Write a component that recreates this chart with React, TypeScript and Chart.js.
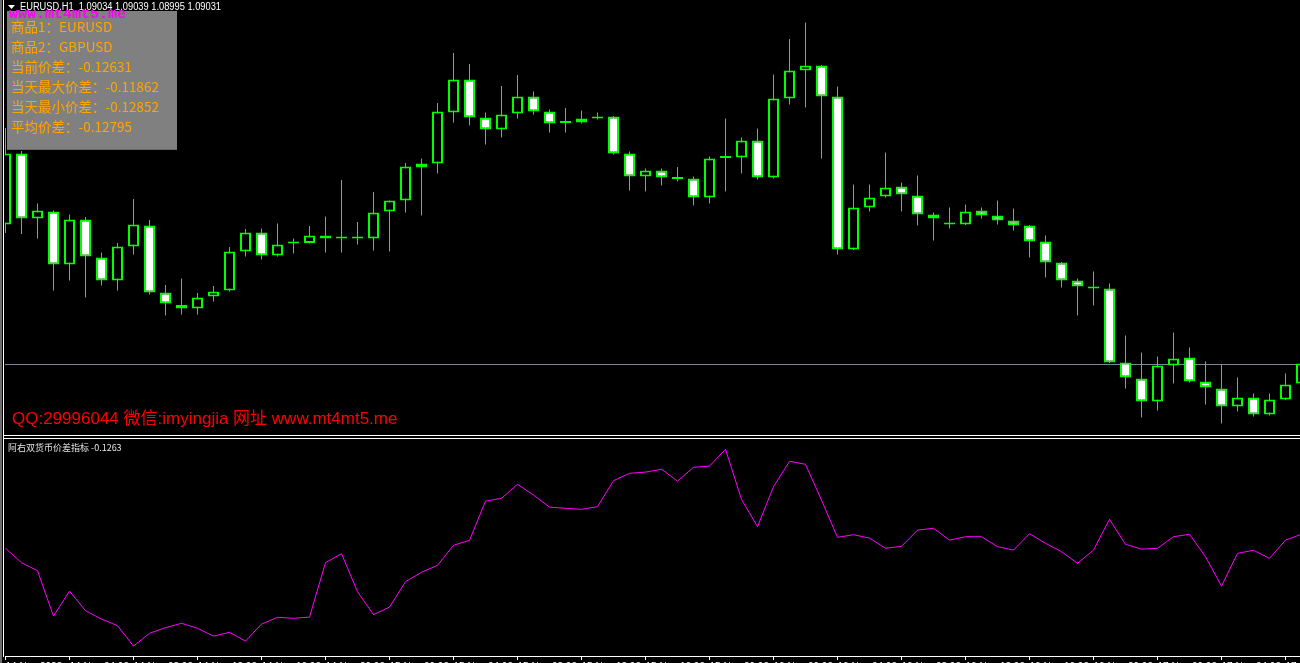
import React, { useEffect, useRef } from "react";
import { Chart, registerables } from "chart.js";

Chart.register(...registerables);

// ---- data ----
const headerText = "EURUSD,H1  1.09034 1.09039 1.08995 1.09031";
const bidPrice = 1.09031;

const opens = [
  1.09310, 1.09452, 1.09322, 1.09336, 1.09230, 1.09320, 1.09244, 1.09198, 1.09266, 1.09308,
  1.09174, 1.09149, 1.09142, 1.09166, 1.09178, 1.09256, 1.09294, 1.09248, 1.09272, 1.09273,
  1.09288, 1.09282, 1.09286, 1.09282, 1.09336, 1.09358, 1.09424, 1.09432, 1.09534, 1.09600,
  1.09524, 1.09500, 1.09532, 1.09566, 1.09536, 1.09514, 1.09514, 1.09522, 1.09526, 1.09452,
  1.09406, 1.09418, 1.09402, 1.09402, 1.09364, 1.09443, 1.09444, 1.09478, 1.09404, 1.09562,
  1.09618, 1.09628, 1.09566, 1.09260, 1.09344, 1.09366, 1.09386, 1.09368, 1.09330, 1.09314,
  1.09310, 1.09338, 1.09328, 1.09318, 1.09308, 1.09276, 1.09234, 1.09198, 1.09186, 1.09182,
  1.09034, 1.09002, 1.08956, 1.09028, 1.09044, 1.08996, 1.08982, 1.08946, 1.08964, 1.08930,
  1.08960, 1.08992,
];
const highs = [
  1.09503, 1.09457, 1.09352, 1.09338, 1.09330, 1.09325, 1.09254, 1.09273, 1.09361, 1.09319,
  1.09189, 1.09202, 1.09173, 1.09187, 1.09265, 1.09301, 1.09302, 1.09312, 1.09282, 1.09307,
  1.09326, 1.09399, 1.09315, 1.09375, 1.09358, 1.09433, 1.09442, 1.09553, 1.09653, 1.09631,
  1.09534, 1.09587, 1.09609, 1.09576, 1.09540, 1.09543, 1.09538, 1.09534, 1.09527, 1.09456,
  1.09422, 1.09422, 1.09425, 1.09406, 1.09446, 1.09522, 1.09484, 1.09502, 1.09610, 1.09681,
  1.09714, 1.09629, 1.09586, 1.09390, 1.09390, 1.09454, 1.09394, 1.09408, 1.09334, 1.09344,
  1.09350, 1.09344, 1.09358, 1.09342, 1.09309, 1.09288, 1.09235, 1.09202, 1.09216, 1.09192,
  1.09088, 1.09054, 1.09046, 1.09094, 1.09064, 1.09036, 1.09030, 1.09004, 1.08972, 1.08972,
  1.09012, 1.09033,
];
const lows = [
  1.09293, 1.09291, 1.09282, 1.09178, 1.09198, 1.09164, 1.09188, 1.09178, 1.09250, 1.09170,
  1.09128, 1.09130, 1.09130, 1.09156, 1.09176, 1.09246, 1.09240, 1.09246, 1.09252, 1.09272,
  1.09254, 1.09254, 1.09270, 1.09258, 1.09256, 1.09334, 1.09328, 1.09412, 1.09514, 1.09508,
  1.09470, 1.09484, 1.09522, 1.09530, 1.09494, 1.09494, 1.09512, 1.09520, 1.09450, 1.09378,
  1.09376, 1.09388, 1.09396, 1.09348, 1.09352, 1.09376, 1.09412, 1.09400, 1.09402, 1.09550,
  1.09544, 1.09442, 1.09250, 1.09259, 1.09336, 1.09364, 1.09336, 1.09308, 1.09278, 1.09302,
  1.09309, 1.09322, 1.09310, 1.09298, 1.09244, 1.09204, 1.09184, 1.09128, 1.09148, 1.09033,
  1.08982, 1.08924, 1.08938, 1.08992, 1.08994, 1.08950, 1.08912, 1.08936, 1.08926, 1.08928,
  1.08959, 1.08990,
];
const closes = [
  1.09452, 1.09322, 1.09338, 1.09230, 1.09320, 1.09246, 1.09198, 1.09266, 1.09310, 1.09174,
  1.09152, 1.09142, 1.09164, 1.09176, 1.09256, 1.09294, 1.09248, 1.09270, 1.09274, 1.09288,
  1.09282, 1.09286, 1.09282, 1.09334, 1.09358, 1.09426, 1.09432, 1.09536, 1.09600, 1.09524,
  1.09500, 1.09530, 1.09566, 1.09536, 1.09512, 1.09513, 1.09522, 1.09526, 1.09452, 1.09406,
  1.09418, 1.09404, 1.09401, 1.09364, 1.09442, 1.09444, 1.09478, 1.09404, 1.09562, 1.09618,
  1.09628, 1.09566, 1.09260, 1.09344, 1.09364, 1.09384, 1.09370, 1.09330, 1.09322, 1.09310,
  1.09336, 1.09328, 1.09318, 1.09308, 1.09276, 1.09234, 1.09198, 1.09186, 1.09182, 1.09034,
  1.09004, 1.08956, 1.09028, 1.09042, 1.08996, 1.08984, 1.08946, 1.08964, 1.08930, 1.08960,
  1.08990, 1.09032,
];
const spread = [
  -0.12700, -0.12772, -0.12812, -0.13039, -0.12914, -0.13012, -0.13054, -0.13087, -0.13189, -0.13125,
  -0.13097, -0.13075, -0.13100, -0.13139, -0.13120, -0.13164, -0.13079, -0.13045, -0.13050, -0.13044,
  -0.12772, -0.12727, -0.12917, -0.13032, -0.12994, -0.12867, -0.12820, -0.12785, -0.12685, -0.12660,
  -0.12464, -0.12450, -0.12380, -0.12434, -0.12494, -0.12500, -0.12505, -0.12492, -0.12362, -0.12325,
  -0.12319, -0.12305, -0.12364, -0.12295, -0.12289, -0.12205, -0.12455, -0.12592, -0.12392, -0.12265,
  -0.12280, -0.12459, -0.12645, -0.12632, -0.12649, -0.12700, -0.12690, -0.12609, -0.12600, -0.12659,
  -0.12642, -0.12642, -0.12692, -0.12709, -0.12627, -0.12675, -0.12717, -0.12775, -0.12709, -0.12555,
  -0.12680, -0.12704, -0.12700, -0.12642, -0.12630, -0.12742, -0.12889, -0.12725, -0.12710, -0.12750,
  -0.12659, -0.12630,
];
const tickBars = [0, 4, 8, 12, 16, 20, 24, 28, 32, 36, 40, 44, 48, 52, 56, 60, 64, 68, 72, 76, 80];
const timeLabels = [
  "14 Nov 2023", "14 Nov 04:00", "14 Nov 08:00", "14 Nov 12:00", "14 Nov 16:00", "14 Nov 20:00",
  "15 Nov 00:00", "15 Nov 04:00", "15 Nov 08:00", "15 Nov 12:00", "15 Nov 16:00", "15 Nov 20:00",
  "16 Nov 00:00", "16 Nov 04:00", "16 Nov 08:00", "16 Nov 12:00", "16 Nov 16:00", "16 Nov 20:00",
  "17 Nov 00:00", "17 Nov 04:00", "17 Nov 08:00",
];
const watermark = "www.mt4mt5.me";
const infoLines = [
  "商品1：EURUSD",
  "商品2：GBPUSD",
  "当前价差：-0.12631",
  "当天最大价差：-0.11862",
  "当天最小价差：-0.12852",
  "平均价差：-0.12795",
];
const contactText = "QQ:29996044 微信:imyingjia 网址 www.mt4mt5.me";
const indicatorLabel = "阿右双货币价差指标 -0.1263";

const GREEN = "#00ff00";

const overlayPlugin = {
  id: "mt4overlay",
  beforeDatasetsDraw(chart: any) {
    const ctx = chart.ctx;
    const ys = chart.scales.y;
    const yb = Math.floor(ys.getPixelForValue(bidPrice));
    ctx.save();
    ctx.fillStyle = "#778899";
    ctx.fillRect(chart.chartArea.left, yb, chart.chartArea.right - chart.chartArea.left, 1);
    ctx.restore();
  },
  afterDraw(chart: any) {
    const ctx = chart.ctx;
    ctx.save();
    // window frames
    ctx.fillStyle = "#6e6e6e";
    ctx.fillRect(0, 0, 2, 663);
    ctx.fillStyle = "#ffffff";
    ctx.fillRect(3, 0, 1, 657);
    ctx.fillRect(3, 435, 1297, 1);
    ctx.fillRect(3, 438, 1297, 1);
    ctx.fillStyle = "#000000";
    ctx.fillRect(4, 436, 1296, 2);

    // header
    ctx.fillStyle = "#ffffff";
    ctx.beginPath();
    ctx.moveTo(8, 5);
    ctx.lineTo(15, 5);
    ctx.lineTo(11.5, 9);
    ctx.closePath();
    ctx.fill();
    ctx.font = "10px 'Liberation Sans'";
    ctx.textBaseline = "alphabetic";
    ctx.textAlign = "left";
    ctx.fillText(headerText, 20, 10, 201);

    // info panel
    ctx.fillStyle = "#808080";
    ctx.fillRect(7, 11, 170, 138);
    ctx.fillStyle = "#6a6a6a";
    ctx.fillRect(7, 149, 170, 1);

    ctx.save();
    ctx.beginPath();
    ctx.rect(0, 10, 200, 20);
    ctx.clip();
    ctx.fillStyle = "#ff00ff";
    ctx.font = "bold 15px 'Liberation Mono'";
    ctx.fillText(watermark, 9, 18);
    ctx.restore();

    ctx.fillStyle = "#ffa500";
    ctx.font = "13.5px 'Noto Sans CJK SC'";
    infoLines.forEach((t, i) => ctx.fillText(t, 11, 32 + i * 20));

    // contact line
    ctx.fillStyle = "#ff0000";
    ctx.font = "17px 'Liberation Sans', 'Noto Sans CJK SC'";
    ctx.fillText(contactText, 12, 424);

    // indicator label
    ctx.fillStyle = "#e6e6e6";
    ctx.font = "9px 'Noto Sans CJK SC'";
    ctx.fillText(indicatorLabel, 8, 451);
    ctx.restore();
  },
};

export default function App() {
  const ref = useRef<HTMLCanvasElement | null>(null);

  useEffect(() => {
    if (!ref.current) return;
    const idx = opens.map((_, k) => k);
    const bodyColors = idx.map((k) => (closes[k] < opens[k] ? "#ffffff" : "#000000"));
    const chart = new Chart(ref.current, {
      type: "bar",
      data: {
        datasets: [
          {
            type: "bar",
            label: "wick",
            data: idx.map((k) => ({ x: k, y: [lows[k], highs[k]] })),
            backgroundColor: GREEN,
            borderWidth: 0,
            barThickness: 1,
            inflateAmount: 0,
            grouped: false,
            order: 3,
            yAxisID: "y",
          } as any,
          {
            type: "bar",
            label: "body",
            data: idx.map((k) => ({
              x: k,
              y: [Math.min(opens[k], closes[k]), Math.max(opens[k], closes[k])],
            })),
            backgroundColor: bodyColors,
            borderColor: GREEN,
            borderWidth: 2,
            borderSkipped: false,
            barThickness: 11,
            minBarLength: 2,
            inflateAmount: 0,
            grouped: false,
            order: 2,
            yAxisID: "y",
          } as any,
          {
            type: "line",
            label: "spread",
            data: spread.map((v, k) => ({ x: k, y: v })),
            borderColor: "#ff00ff",
            borderWidth: 1,
            pointRadius: 0,
            tension: 0,
            fill: false,
            order: 1,
            yAxisID: "y2",
          } as any,
        ],
      },
      options: {
        animation: false,
        responsive: false,
        devicePixelRatio: 1,
        events: [],
        layout: { padding: { left: 5, right: 0, top: 0, bottom: 0 }, autoPadding: false } as any,
        plugins: { legend: { display: false }, tooltip: { enabled: false } },
        scales: {
          x: {
            type: "linear",
            min: -0.03125,
            max: 80.90625,
            offset: false,
            grid: {
              display: true,
              drawOnChartArea: false,
              drawTicks: true,
              tickLength: 4,
              color: "#ffffff",
              offset: false,
            },
            border: { display: true, color: "#ffffff", width: 1 },
            ticks: {
              autoSkip: false,
              maxRotation: 0,
              minRotation: 0,
              align: "start",
              padding: 1,
              color: "#ffffff",
              font: { size: 10, family: "'Liberation Sans'" },
              callback: (_v: any, i: number) => timeLabels[i] ?? "",
            },
            afterBuildTicks: (s: any) => {
              s.ticks = tickBars.map((v) => ({ value: v }));
            },
            afterFit: (s: any) => {
              s.height = 24;
              s.paddingLeft = 0;
              s.paddingRight = 0;
            },
          } as any,
          y: { type: "linear", display: false, min: 1.08447, max: 1.09759, beginAtZero: false },
          y2: { type: "linear", display: false, min: -0.132385, max: -0.099585, position: "left" },
        },
      },
      plugins: [overlayPlugin],
    });
    return () => chart.destroy();
  }, []);

  return (
    <div
      style={{
        position: "fixed",
        left: 0,
        top: 0,
        width: 1300,
        height: 663,
        overflow: "hidden",
        background: "#000000",
      }}
    >
      <canvas ref={ref} width={1300} height={680} style={{ display: "block" }} />
    </div>
  );
}
